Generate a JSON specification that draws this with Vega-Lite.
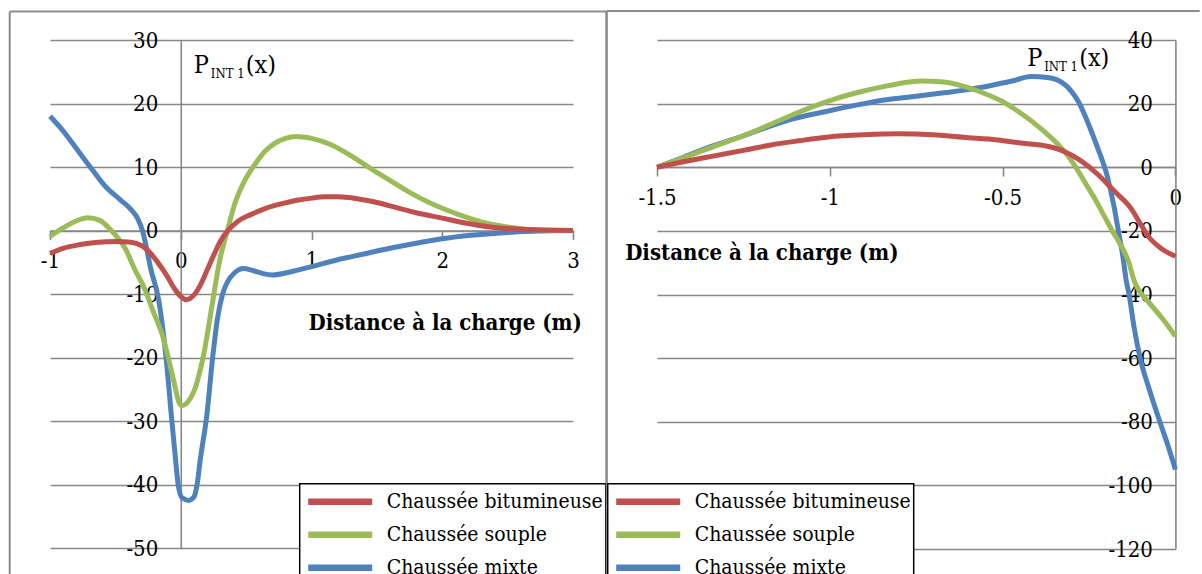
{
  "$schema": "https://vega.github.io/schema/vega-lite/v6.json",
  "background": "white",
  "padding": {"left": 8, "top": 9, "right": 0, "bottom": 0},
  "spacing": -3,
  "resolve": {"legend": {"color": "independent"}},
  "datasets": {
    "gauche": [
      {"distance": -1, "p": 18.0, "chaussee": "Chaussée mixte"},
      {"distance": -0.9, "p": 15.7, "chaussee": "Chaussée mixte"},
      {"distance": -0.78, "p": 12.4, "chaussee": "Chaussée mixte"},
      {"distance": -0.67, "p": 9.4, "chaussee": "Chaussée mixte"},
      {"distance": -0.57, "p": 6.8, "chaussee": "Chaussée mixte"},
      {"distance": -0.46, "p": 4.8, "chaussee": "Chaussée mixte"},
      {"distance": -0.38, "p": 3.3, "chaussee": "Chaussée mixte"},
      {"distance": -0.33, "p": 1.9, "chaussee": "Chaussée mixte"},
      {"distance": -0.29, "p": -0.2, "chaussee": "Chaussée mixte"},
      {"distance": -0.255, "p": -3.5, "chaussee": "Chaussée mixte"},
      {"distance": -0.23, "p": -6.0, "chaussee": "Chaussée mixte"},
      {"distance": -0.17, "p": -10.8, "chaussee": "Chaussée mixte"},
      {"distance": -0.112, "p": -20.1, "chaussee": "Chaussée mixte"},
      {"distance": -0.068, "p": -30, "chaussee": "Chaussée mixte"},
      {"distance": -0.04, "p": -36, "chaussee": "Chaussée mixte"},
      {"distance": -0.02, "p": -40, "chaussee": "Chaussée mixte"},
      {"distance": 0.01, "p": -42.1, "chaussee": "Chaussée mixte"},
      {"distance": 0.06, "p": -42.5, "chaussee": "Chaussée mixte"},
      {"distance": 0.1, "p": -42, "chaussee": "Chaussée mixte"},
      {"distance": 0.125, "p": -40, "chaussee": "Chaussée mixte"},
      {"distance": 0.15, "p": -36, "chaussee": "Chaussée mixte"},
      {"distance": 0.2, "p": -29, "chaussee": "Chaussée mixte"},
      {"distance": 0.244, "p": -20, "chaussee": "Chaussée mixte"},
      {"distance": 0.28, "p": -14, "chaussee": "Chaussée mixte"},
      {"distance": 0.32, "p": -10, "chaussee": "Chaussée mixte"},
      {"distance": 0.36, "p": -8, "chaussee": "Chaussée mixte"},
      {"distance": 0.41, "p": -6.7, "chaussee": "Chaussée mixte"},
      {"distance": 0.48, "p": -6.0, "chaussee": "Chaussée mixte"},
      {"distance": 0.55, "p": -6.3, "chaussee": "Chaussée mixte"},
      {"distance": 0.63, "p": -6.8, "chaussee": "Chaussée mixte"},
      {"distance": 0.7, "p": -7.0, "chaussee": "Chaussée mixte"},
      {"distance": 0.8, "p": -6.7, "chaussee": "Chaussée mixte"},
      {"distance": 0.9, "p": -6.2, "chaussee": "Chaussée mixte"},
      {"distance": 1.0, "p": -5.7, "chaussee": "Chaussée mixte"},
      {"distance": 1.2, "p": -4.6, "chaussee": "Chaussée mixte"},
      {"distance": 1.4, "p": -3.7, "chaussee": "Chaussée mixte"},
      {"distance": 1.6, "p": -2.8, "chaussee": "Chaussée mixte"},
      {"distance": 1.8, "p": -2.0, "chaussee": "Chaussée mixte"},
      {"distance": 2.0, "p": -1.3, "chaussee": "Chaussée mixte"},
      {"distance": 2.2, "p": -0.8, "chaussee": "Chaussée mixte"},
      {"distance": 2.5, "p": -0.3, "chaussee": "Chaussée mixte"},
      {"distance": 2.75, "p": -0.08, "chaussee": "Chaussée mixte"},
      {"distance": 3.0, "p": 0, "chaussee": "Chaussée mixte"},
      {"distance": -1, "p": -0.95, "chaussee": "Chaussée souple"},
      {"distance": -0.9, "p": 0.4, "chaussee": "Chaussée souple"},
      {"distance": -0.8, "p": 1.5, "chaussee": "Chaussée souple"},
      {"distance": -0.71, "p": 2.0, "chaussee": "Chaussée souple"},
      {"distance": -0.62, "p": 1.6, "chaussee": "Chaussée souple"},
      {"distance": -0.54, "p": 0.2, "chaussee": "Chaussée souple"},
      {"distance": -0.48, "p": -1.2, "chaussee": "Chaussée souple"},
      {"distance": -0.42, "p": -3.0, "chaussee": "Chaussée souple"},
      {"distance": -0.357, "p": -5.9, "chaussee": "Chaussée souple"},
      {"distance": -0.28, "p": -9.0, "chaussee": "Chaussée souple"},
      {"distance": -0.2, "p": -13.3, "chaussee": "Chaussée souple"},
      {"distance": -0.14, "p": -16.5, "chaussee": "Chaussée souple"},
      {"distance": -0.096, "p": -20, "chaussee": "Chaussée souple"},
      {"distance": -0.05, "p": -24, "chaussee": "Chaussée souple"},
      {"distance": -0.015, "p": -27, "chaussee": "Chaussée souple"},
      {"distance": 0.01, "p": -27.6, "chaussee": "Chaussée souple"},
      {"distance": 0.045, "p": -27.2, "chaussee": "Chaussée souple"},
      {"distance": 0.08, "p": -26.2, "chaussee": "Chaussée souple"},
      {"distance": 0.111, "p": -24.8, "chaussee": "Chaussée souple"},
      {"distance": 0.14, "p": -22.7, "chaussee": "Chaussée souple"},
      {"distance": 0.17, "p": -20.1, "chaussee": "Chaussée souple"},
      {"distance": 0.21, "p": -15.5, "chaussee": "Chaussée souple"},
      {"distance": 0.244, "p": -11.2, "chaussee": "Chaussée souple"},
      {"distance": 0.3, "p": -4.5, "chaussee": "Chaussée souple"},
      {"distance": 0.357, "p": 0, "chaussee": "Chaussée souple"},
      {"distance": 0.41, "p": 4.0, "chaussee": "Chaussée souple"},
      {"distance": 0.48, "p": 7.5, "chaussee": "Chaussée souple"},
      {"distance": 0.56, "p": 10.2, "chaussee": "Chaussée souple"},
      {"distance": 0.65, "p": 12.6, "chaussee": "Chaussée souple"},
      {"distance": 0.71, "p": 13.6, "chaussee": "Chaussée souple"},
      {"distance": 0.8, "p": 14.5, "chaussee": "Chaussée souple"},
      {"distance": 0.885, "p": 14.8, "chaussee": "Chaussée souple"},
      {"distance": 1.0, "p": 14.5, "chaussee": "Chaussée souple"},
      {"distance": 1.15, "p": 13.5, "chaussee": "Chaussée souple"},
      {"distance": 1.3, "p": 11.8, "chaussee": "Chaussée souple"},
      {"distance": 1.45, "p": 9.8, "chaussee": "Chaussée souple"},
      {"distance": 1.6, "p": 7.9, "chaussee": "Chaussée souple"},
      {"distance": 1.75, "p": 6.0, "chaussee": "Chaussée souple"},
      {"distance": 1.9, "p": 4.4, "chaussee": "Chaussée souple"},
      {"distance": 2.0, "p": 3.5, "chaussee": "Chaussée souple"},
      {"distance": 2.17, "p": 2.2, "chaussee": "Chaussée souple"},
      {"distance": 2.34, "p": 1.15, "chaussee": "Chaussée souple"},
      {"distance": 2.5, "p": 0.55, "chaussee": "Chaussée souple"},
      {"distance": 2.64, "p": 0.2, "chaussee": "Chaussée souple"},
      {"distance": 2.8, "p": 0.05, "chaussee": "Chaussée souple"},
      {"distance": 3.0, "p": 0, "chaussee": "Chaussée souple"},
      {"distance": -1, "p": -3.6, "chaussee": "Chaussée bitumineuse"},
      {"distance": -0.9, "p": -2.8, "chaussee": "Chaussée bitumineuse"},
      {"distance": -0.78, "p": -2.25, "chaussee": "Chaussée bitumineuse"},
      {"distance": -0.65, "p": -1.9, "chaussee": "Chaussée bitumineuse"},
      {"distance": -0.5, "p": -1.75, "chaussee": "Chaussée bitumineuse"},
      {"distance": -0.4, "p": -1.8, "chaussee": "Chaussée bitumineuse"},
      {"distance": -0.33, "p": -2.1, "chaussee": "Chaussée bitumineuse"},
      {"distance": -0.27, "p": -2.8, "chaussee": "Chaussée bitumineuse"},
      {"distance": -0.18, "p": -4.9, "chaussee": "Chaussée bitumineuse"},
      {"distance": -0.11, "p": -7.0, "chaussee": "Chaussée bitumineuse"},
      {"distance": -0.05, "p": -9.1, "chaussee": "Chaussée bitumineuse"},
      {"distance": 0.0, "p": -10.4, "chaussee": "Chaussée bitumineuse"},
      {"distance": 0.04, "p": -10.9, "chaussee": "Chaussée bitumineuse"},
      {"distance": 0.09, "p": -10.4, "chaussee": "Chaussée bitumineuse"},
      {"distance": 0.15, "p": -8.6, "chaussee": "Chaussée bitumineuse"},
      {"distance": 0.2, "p": -6.3, "chaussee": "Chaussée bitumineuse"},
      {"distance": 0.254, "p": -3.8, "chaussee": "Chaussée bitumineuse"},
      {"distance": 0.3, "p": -1.8, "chaussee": "Chaussée bitumineuse"},
      {"distance": 0.357, "p": -0.1, "chaussee": "Chaussée bitumineuse"},
      {"distance": 0.44, "p": 1.5, "chaussee": "Chaussée bitumineuse"},
      {"distance": 0.535, "p": 2.5, "chaussee": "Chaussée bitumineuse"},
      {"distance": 0.65, "p": 3.5, "chaussee": "Chaussée bitumineuse"},
      {"distance": 0.79, "p": 4.3, "chaussee": "Chaussée bitumineuse"},
      {"distance": 0.9, "p": 4.8, "chaussee": "Chaussée bitumineuse"},
      {"distance": 1.0, "p": 5.1, "chaussee": "Chaussée bitumineuse"},
      {"distance": 1.1, "p": 5.3, "chaussee": "Chaussée bitumineuse"},
      {"distance": 1.2, "p": 5.3, "chaussee": "Chaussée bitumineuse"},
      {"distance": 1.35, "p": 5.0, "chaussee": "Chaussée bitumineuse"},
      {"distance": 1.5, "p": 4.4, "chaussee": "Chaussée bitumineuse"},
      {"distance": 1.65, "p": 3.6, "chaussee": "Chaussée bitumineuse"},
      {"distance": 1.8, "p": 2.8, "chaussee": "Chaussée bitumineuse"},
      {"distance": 2.0, "p": 1.95, "chaussee": "Chaussée bitumineuse"},
      {"distance": 2.2, "p": 1.1, "chaussee": "Chaussée bitumineuse"},
      {"distance": 2.35, "p": 0.6, "chaussee": "Chaussée bitumineuse"},
      {"distance": 2.5, "p": 0.3, "chaussee": "Chaussée bitumineuse"},
      {"distance": 2.7, "p": 0.1, "chaussee": "Chaussée bitumineuse"},
      {"distance": 3.0, "p": 0, "chaussee": "Chaussée bitumineuse"}
    ],
    "droite": [
      {"distance": -1.5, "p": 0, "chaussee": "Chaussée mixte"},
      {"distance": -1.42, "p": 3.3, "chaussee": "Chaussée mixte"},
      {"distance": -1.338, "p": 6.7, "chaussee": "Chaussée mixte"},
      {"distance": -1.25, "p": 9.9, "chaussee": "Chaussée mixte"},
      {"distance": -1.171, "p": 13.0, "chaussee": "Chaussée mixte"},
      {"distance": -1.115, "p": 15.0, "chaussee": "Chaussée mixte"},
      {"distance": -1.004, "p": 17.7, "chaussee": "Chaussée mixte"},
      {"distance": -0.92, "p": 19.6, "chaussee": "Chaussée mixte"},
      {"distance": -0.837, "p": 21.2, "chaussee": "Chaussée mixte"},
      {"distance": -0.75, "p": 22.3, "chaussee": "Chaussée mixte"},
      {"distance": -0.67, "p": 23.4, "chaussee": "Chaussée mixte"},
      {"distance": -0.6, "p": 24.4, "chaussee": "Chaussée mixte"},
      {"distance": -0.53, "p": 25.8, "chaussee": "Chaussée mixte"},
      {"distance": -0.47, "p": 27.2, "chaussee": "Chaussée mixte"},
      {"distance": -0.418, "p": 28.5, "chaussee": "Chaussée mixte"},
      {"distance": -0.37, "p": 28.2, "chaussee": "Chaussée mixte"},
      {"distance": -0.341, "p": 27.4, "chaussee": "Chaussée mixte"},
      {"distance": -0.302, "p": 24, "chaussee": "Chaussée mixte"},
      {"distance": -0.28, "p": 20.5, "chaussee": "Chaussée mixte"},
      {"distance": -0.263, "p": 16.6, "chaussee": "Chaussée mixte"},
      {"distance": -0.245, "p": 11.8, "chaussee": "Chaussée mixte"},
      {"distance": -0.225, "p": 6.1, "chaussee": "Chaussée mixte"},
      {"distance": -0.196, "p": -3.3, "chaussee": "Chaussée mixte"},
      {"distance": -0.177, "p": -12.7, "chaussee": "Chaussée mixte"},
      {"distance": -0.165, "p": -20, "chaussee": "Chaussée mixte"},
      {"distance": -0.152, "p": -28, "chaussee": "Chaussée mixte"},
      {"distance": -0.142, "p": -35.8, "chaussee": "Chaussée mixte"},
      {"distance": -0.134, "p": -40, "chaussee": "Chaussée mixte"},
      {"distance": -0.12, "p": -50, "chaussee": "Chaussée mixte"},
      {"distance": -0.102, "p": -60, "chaussee": "Chaussée mixte"},
      {"distance": -0.075, "p": -70, "chaussee": "Chaussée mixte"},
      {"distance": -0.045, "p": -80, "chaussee": "Chaussée mixte"},
      {"distance": -0.02, "p": -88, "chaussee": "Chaussée mixte"},
      {"distance": 0, "p": -95, "chaussee": "Chaussée mixte"},
      {"distance": -1.5, "p": 0, "chaussee": "Chaussée souple"},
      {"distance": -1.42, "p": 3.1, "chaussee": "Chaussée souple"},
      {"distance": -1.338, "p": 6.4, "chaussee": "Chaussée souple"},
      {"distance": -1.25, "p": 9.9, "chaussee": "Chaussée souple"},
      {"distance": -1.171, "p": 13.5, "chaussee": "Chaussée souple"},
      {"distance": -1.09, "p": 17.3, "chaussee": "Chaussée souple"},
      {"distance": -1.004, "p": 20.8, "chaussee": "Chaussée souple"},
      {"distance": -0.92, "p": 23.5, "chaussee": "Chaussée souple"},
      {"distance": -0.837, "p": 25.5, "chaussee": "Chaussée souple"},
      {"distance": -0.737, "p": 27.1, "chaussee": "Chaussée souple"},
      {"distance": -0.67, "p": 26.8, "chaussee": "Chaussée souple"},
      {"distance": -0.614, "p": 25.5, "chaussee": "Chaussée souple"},
      {"distance": -0.56, "p": 23.5, "chaussee": "Chaussée souple"},
      {"distance": -0.503, "p": 20.8, "chaussee": "Chaussée souple"},
      {"distance": -0.45, "p": 17.2, "chaussee": "Chaussée souple"},
      {"distance": -0.392, "p": 12.4, "chaussee": "Chaussée souple"},
      {"distance": -0.35, "p": 8.3, "chaussee": "Chaussée souple"},
      {"distance": -0.314, "p": 4.0, "chaussee": "Chaussée souple"},
      {"distance": -0.29, "p": 0.3, "chaussee": "Chaussée souple"},
      {"distance": -0.258, "p": -5.4, "chaussee": "Chaussée souple"},
      {"distance": -0.23, "p": -10.5, "chaussee": "Chaussée souple"},
      {"distance": -0.203, "p": -15.9, "chaussee": "Chaussée souple"},
      {"distance": -0.18, "p": -20.5, "chaussee": "Chaussée souple"},
      {"distance": -0.158, "p": -24.5, "chaussee": "Chaussée souple"},
      {"distance": -0.135, "p": -29.8, "chaussee": "Chaussée souple"},
      {"distance": -0.119, "p": -35.8, "chaussee": "Chaussée souple"},
      {"distance": -0.1, "p": -39.6, "chaussee": "Chaussée souple"},
      {"distance": -0.08, "p": -42.1, "chaussee": "Chaussée souple"},
      {"distance": -0.036, "p": -47.8, "chaussee": "Chaussée souple"},
      {"distance": 0, "p": -53.1, "chaussee": "Chaussée souple"},
      {"distance": -1.5, "p": 0, "chaussee": "Chaussée bitumineuse"},
      {"distance": -1.42, "p": 1.8, "chaussee": "Chaussée bitumineuse"},
      {"distance": -1.338, "p": 3.5, "chaussee": "Chaussée bitumineuse"},
      {"distance": -1.25, "p": 5.3, "chaussee": "Chaussée bitumineuse"},
      {"distance": -1.171, "p": 7.0, "chaussee": "Chaussée bitumineuse"},
      {"distance": -1.09, "p": 8.3, "chaussee": "Chaussée bitumineuse"},
      {"distance": -1.004, "p": 9.5, "chaussee": "Chaussée bitumineuse"},
      {"distance": -0.9, "p": 10.2, "chaussee": "Chaussée bitumineuse"},
      {"distance": -0.804, "p": 10.5, "chaussee": "Chaussée bitumineuse"},
      {"distance": -0.7, "p": 10.2, "chaussee": "Chaussée bitumineuse"},
      {"distance": -0.614, "p": 9.4, "chaussee": "Chaussée bitumineuse"},
      {"distance": -0.514, "p": 8.6, "chaussee": "Chaussée bitumineuse"},
      {"distance": -0.447, "p": 7.6, "chaussee": "Chaussée bitumineuse"},
      {"distance": -0.37, "p": 6.6, "chaussee": "Chaussée bitumineuse"},
      {"distance": -0.32, "p": 4.9, "chaussee": "Chaussée bitumineuse"},
      {"distance": -0.273, "p": 2.0, "chaussee": "Chaussée bitumineuse"},
      {"distance": -0.225, "p": -2.2, "chaussee": "Chaussée bitumineuse"},
      {"distance": -0.177, "p": -7.5, "chaussee": "Chaussée bitumineuse"},
      {"distance": -0.128, "p": -13, "chaussee": "Chaussée bitumineuse"},
      {"distance": -0.1, "p": -18, "chaussee": "Chaussée bitumineuse"},
      {"distance": -0.08, "p": -21.5, "chaussee": "Chaussée bitumineuse"},
      {"distance": -0.04, "p": -25.6, "chaussee": "Chaussée bitumineuse"},
      {"distance": 0, "p": -28, "chaussee": "Chaussée bitumineuse"}
    ]
  },
  "config": {
    "view": {"stroke": null},
    "axis": {
      "labelColor": "black",
      "domainColor": "#878787", "domainWidth": 1.6,
      "gridColor": "#878787", "gridWidth": 1.6, "gridOpacity": 1,
      "tickColor": "#878787", "tickWidth": 1.6,
      "labelFlush": false, "labelOverlap": false,
      "titleFontWeight": "bold", "titleColor": "black"
    },
    "legend": {
      "strokeColor": "black", "strokeWidth": 1.5, "fillColor": "white", "padding": 2,
      "labelColor": "black", "labelLimit": 400,
      "symbolType": "stroke", "symbolSize": 4096, "symbolStrokeWidth": 6.5,
      "clipHeight": 32.3, "rowPadding": 0, "labelOffset": 11, "symbolOffset": 3
    }
  },
  "hconcat": [
    {
      "width": 523, "height": 508,
      "layer": [
        {
          "data": {"name": "gauche"},
          "mark": {"type": "line", "strokeWidth": 5, "interpolate": "monotone"},
          "encoding": {
            "x": {"field": "distance", "type": "quantitative",
              "scale": {"domain": [-1, 3], "nice": false, "zero": false},
              "axis": {"values": [-1, 0, 1, 2, 3], "labelExpr": "'' + datum.value", "labelFont": "DejaVu Serif Condensed", "labelFontSize": 22,
                "titleFont": "DejaVu Serif Condensed", "titleFontSize": 22,
                "grid": false, "offset": -317.5, "tickSize": 9, "labelPadding": 11,
                "title": "Distance à la charge (m)", "titleX": 258, "titleY": 99.3, "titleAlign": "left", "titleBaseline": "alphabetic"}},
            "y": {"field": "p", "type": "quantitative",
              "scale": {"domain": [-50, 30], "nice": false, "zero": false},
              "axis": {"values": [-50, -40, -30, -20, -10, 0, 10, 20, 30], "labelExpr": "'' + datum.value", "labelFont": "DejaVu Serif Condensed", "labelFontSize": 22,
                "grid": true, "offset": -130.75, "ticks": false, "labelPadding": 23, "title": null}},
            "color": {"field": "chaussee", "type": "nominal",
              "scale": {"domain": ["Chaussée bitumineuse", "Chaussée souple", "Chaussée mixte"], "range": ["#C0504D", "#9BBB59", "#4F81BD"]},
              "legend": {"title": null, "orient": "none", "legendX": 249.7, "legendY": 443.7, "labelFont": "DejaVu Serif Condensed", "labelFontSize": 21}}
          }
        },
        {
          "data": {"values": [{}]},
          "mark": {"type": "rule", "color": "#8c8c8c", "strokeWidth": 2},
          "encoding": {"x": {"datum": -1.3082, "type": "quantitative"}, "x2": {"datum": 3.2554}, "y": {"datum": 34.49, "type": "quantitative"}}
        },
        {
          "data": {"values": [{}]},
          "mark": {"type": "rule", "color": "#8c8c8c", "strokeWidth": 2},
          "encoding": {"x": {"datum": -1.3082, "type": "quantitative"}, "y": {"datum": 34.49, "type": "quantitative"}, "y2": {"datum": -54.2}}
        },
        {
          "data": {"values": [{}]},
          "mark": {"type": "rule", "color": "#8c8c8c", "strokeWidth": 2},
          "encoding": {"x": {"datum": 3.2554, "type": "quantitative"}, "y": {"datum": 34.49, "type": "quantitative"}, "y2": {"datum": -54.2}}
        },
        {
          "data": {"values": [{}]},
          "mark": {"type": "text", "text": "P", "font": "DejaVu Serif Condensed", "fontSize": 25, "align": "left", "baseline": "alphabetic", "color": "black"},
          "encoding": {"x": {"datum": 0.1, "type": "quantitative"}, "y": {"datum": 24.8, "type": "quantitative"}}
        },
        {
          "data": {"values": [{}]},
          "mark": {"type": "text", "text": "INT 1", "font": "DejaVu Serif Condensed", "fontSize": 13, "align": "left", "baseline": "alphabetic", "color": "black", "dx": 17, "dy": 4.5},
          "encoding": {"x": {"datum": 0.1, "type": "quantitative"}, "y": {"datum": 24.8, "type": "quantitative"}}
        },
        {
          "data": {"values": [{}]},
          "mark": {"type": "text", "text": "(x)", "font": "DejaVu Serif Condensed", "fontSize": 25, "align": "left", "baseline": "alphabetic", "color": "black", "dx": 52},
          "encoding": {"x": {"datum": 0.1, "type": "quantitative"}, "y": {"datum": 24.8, "type": "quantitative"}}
        }
      ]
    },
    {
      "width": 518.4, "height": 509,
      "layer": [
        {
          "data": {"name": "droite"},
          "mark": {"type": "line", "strokeWidth": 5, "interpolate": "monotone"},
          "encoding": {
            "x": {"field": "distance", "type": "quantitative",
              "scale": {"domain": [-1.5, 0], "nice": false, "zero": false},
              "axis": {"values": [-1.5, -1, -0.5, 0], "labelExpr": "'' + datum.value", "labelFont": "DejaVu Serif Condensed", "labelFontSize": 22,
                "titleFont": "DejaVu Serif Condensed", "titleFontSize": 22,
                "grid": false, "offset": -382, "tickSize": 9, "labelPadding": 11,
                "title": "Distance à la charge (m)", "titleX": -32.3, "titleY": 92, "titleAlign": "left", "titleBaseline": "alphabetic"}},
            "y": {"field": "p", "type": "quantitative",
              "scale": {"domain": [-120, 40], "nice": false, "zero": false},
              "axis": {"values": [-120, -100, -80, -60, -40, -20, 0, 20, 40], "labelExpr": "'' + datum.value", "labelFont": "DejaVu Serif Condensed", "labelFontSize": 22,
                "grid": true, "offset": -518.4, "ticks": false, "labelPadding": 23, "title": null}},
            "color": {"field": "chaussee", "type": "nominal",
              "scale": {"domain": ["Chaussée bitumineuse", "Chaussée souple", "Chaussée mixte"], "range": ["#C0504D", "#9BBB59", "#4F81BD"]},
              "legend": {"title": null, "orient": "none", "legendX": -49.3, "legendY": 443.7, "labelFont": "DejaVu Serif Condensed", "labelFontSize": 21}}
          }
        },
        {
          "data": {"values": [{}]},
          "mark": {"type": "rule", "color": "#8c8c8c", "strokeWidth": 2},
          "encoding": {"x": {"datum": -1.6455, "type": "quantitative"}, "x2": {"datum": 0.07}, "y": {"datum": 49.12, "type": "quantitative"}}
        },
        {
          "data": {"values": [{}]},
          "mark": {"type": "rule", "color": "#8c8c8c", "strokeWidth": 2},
          "encoding": {"x": {"datum": -1.6455, "type": "quantitative"}, "y": {"datum": 49.12, "type": "quantitative"}, "y2": {"datum": -128.1}}
        },
        {
          "data": {"values": [{}]},
          "mark": {"type": "text", "text": "P", "font": "DejaVu Serif Condensed", "fontSize": 25, "align": "left", "baseline": "alphabetic", "color": "black"},
          "encoding": {"x": {"datum": -0.429, "type": "quantitative"}, "y": {"datum": 31.8, "type": "quantitative"}}
        },
        {
          "data": {"values": [{}]},
          "mark": {"type": "text", "text": "INT 1", "font": "DejaVu Serif Condensed", "fontSize": 13, "align": "left", "baseline": "alphabetic", "color": "black", "dx": 17, "dy": 4.5},
          "encoding": {"x": {"datum": -0.429, "type": "quantitative"}, "y": {"datum": 31.8, "type": "quantitative"}}
        },
        {
          "data": {"values": [{}]},
          "mark": {"type": "text", "text": "(x)", "font": "DejaVu Serif Condensed", "fontSize": 25, "align": "left", "baseline": "alphabetic", "color": "black", "dx": 52},
          "encoding": {"x": {"datum": -0.429, "type": "quantitative"}, "y": {"datum": 31.8, "type": "quantitative"}}
        }
      ]
    }
  ]
}
